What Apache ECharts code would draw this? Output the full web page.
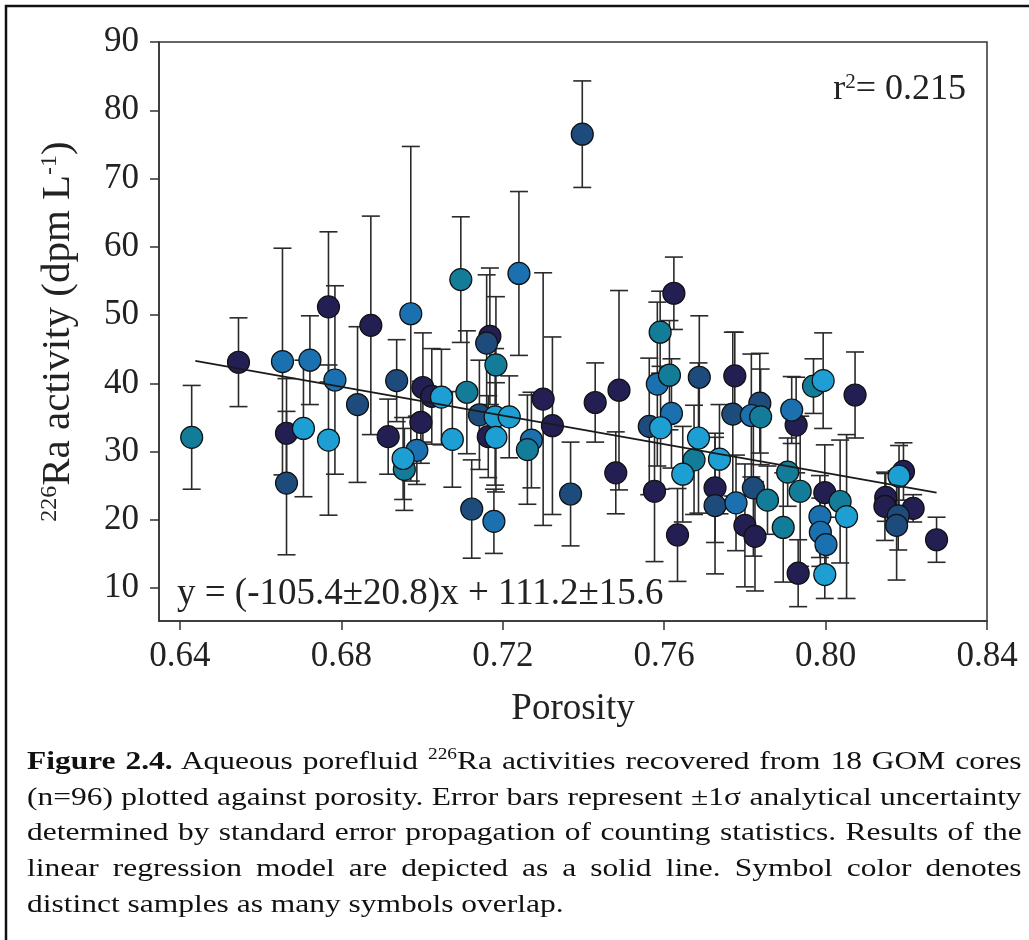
<!DOCTYPE html>
<html>
<head>
<meta charset="utf-8">
<script src="https://cdn.jsdelivr.net/npm/echarts@6/dist/echarts.min.js"></script>
<style>
html, body { margin: 0; padding: 0; background: #fff; }
#wrap { position: relative; width: 1029px; height: 940px; overflow: hidden; }
#chart { position: absolute; left: 0; top: 0; width: 1029px; height: 940px; }
#caption {
    position: absolute; left: 27px; top: 743px; width: 822px;
    transform: scaleX(1.21); transform-origin: left top;
    font-family: 'Liberation Serif', serif; font-size: 26px; line-height: 35.7px; color: #111;
}
#caption div { text-align: justify; text-align-last: justify; }
#caption div.last { text-align: left; text-align-last: left; }
#caption .sup { font-size: 16px; vertical-align: 10px; line-height: 0; }
</style>
</head>
<body>
<div id="wrap">
    <div id="chart"></div>
    <div id="caption">
        <div><b>Figure 2.4.</b> Aqueous porefluid <span class="sup">226</span>Ra activities recovered from 18 GOM cores</div>
        <div>(n=96) plotted against porosity. Error bars represent ±1σ analytical uncertainty</div>
        <div>determined by standard error propagation of counting statistics. Results of the</div>
        <div>linear regression model are depicted as a solid line. Symbol color denotes</div>
        <div class="last">distinct samples as many symbols overlap.</div>
    </div>
</div>
<script>
// [porosity, 226Ra activity, 1 sigma]
const navyPts = [
    [0.6545, 43.1, 6.5], [0.6664, 32.7, 8], [0.6768, 51.2, 11], [0.6873, 48.5, 16],
    [0.6916, 32.2, 5.5], [0.6997, 34.3, 6], [0.7002, 39.4, 8], [0.7024, 38.1, 7],
    [0.7168, 46.9, 10], [0.7164, 32.2, 6], [0.7300, 37.7, 18.5], [0.7323, 33.8, 13],
    [0.7429, 37.2, 5.8], [0.7488, 39.0, 14.6], [0.7480, 26.9, 6], [0.7624, 53.2, 5.3],
    [0.7576, 24.2, 10.3], [0.7633, 17.8, 6.8], [0.7726, 24.7, 8], [0.7775, 41.1, 6.4],
    [0.7927, 33.9, 7], [0.8073, 38.3, 6.3], [0.7800, 19.2, 9], [0.7825, 17.6, 8],
    [0.7932, 12.2, 4.9], [0.7998, 24.0, 7], [0.8149, 23.3, 3.5], [0.8147, 22.0, 5],
    [0.8193, 27.1, 4.2], [0.8217, 21.7, 2], [0.8275, 17.1, 3.3]
]
const darkBluePts = [
    [0.6664, 25.4, 10.5], [0.6840, 36.9, 11.4], [0.6937, 40.4, 6], [0.7142, 35.4, 8],
    [0.7160, 45.9, 10], [0.7123, 21.6, 7.2], [0.7368, 23.8, 7.6], [0.7397, 76.5, 7.8],
    [0.7563, 33.7, 10], [0.7687, 40.9, 9], [0.7726, 22.1, 10], [0.7770, 35.5, 12],
    [0.7837, 37.1, 7.3], [0.7821, 24.7, 10], [0.8180, 20.6, 5], [0.8176, 19.2, 8]
]
const bluePts = [
    [0.6654, 43.2, 16.6], [0.6722, 43.4, 6.5], [0.6784, 40.5, 13.8], [0.6972, 50.2, 24.5],
    [0.6987, 30.2, 5], [0.7240, 56.1, 12], [0.7271, 31.7, 7], [0.7178, 19.8, 4.7],
    [0.7583, 39.9, 12], [0.7618, 35.6, 8], [0.7778, 22.5, 7], [0.7816, 35.3, 9],
    [0.7916, 36.1, 4.9], [0.7986, 20.5, 6], [0.7987, 18.2, 5], [0.8001, 16.4, 4]
]
const tealPts = [
    [0.6429, 32.1, 7.6], [0.6956, 27.4, 6], [0.7096, 55.2, 9.2], [0.7111, 38.7, 9],
    [0.7183, 42.7, 10], [0.7261, 30.3, 8], [0.7590, 47.5, 6], [0.7613, 41.2, 8],
    [0.7674, 28.8, 8], [0.7839, 35.1, 7], [0.7856, 22.9, 5], [0.7906, 27.0, 5],
    [0.7895, 18.9, 8], [0.7937, 24.2, 11], [0.7970, 39.6, 4], [0.8036, 22.7, 9]
]
const cyanPts = [
    [0.6706, 33.4, 10], [0.6768, 31.7, 11], [0.6953, 29.0, 6], [0.7048, 38.0, 7],
    [0.7075, 31.8, 7], [0.7181, 35.1, 10], [0.7183, 32.1, 8], [0.7216, 35.1, 6],
    [0.7591, 33.5, 9], [0.7685, 32.0, 11], [0.7646, 26.7, 7], [0.7737, 28.9, 8],
    [0.7994, 40.4, 7], [0.8052, 20.5, 12], [0.7998, 12.0, 3.5], [0.8182, 26.4, 4.5]
]
const trendLine = [[0.6438, 43.3], [0.8275, 24.0]]
const xTicks = [0.64, 0.68, 0.72, 0.76, 0.80, 0.84]
const yTicks = [10, 20, 30, 40, 50, 60, 70, 80, 90]

const serif = "'Liberation Serif', 'Times New Roman', serif"
const ink = '#222'

const groups = [
    { pts: navyPts, color: '#241f52' },
    { pts: darkBluePts, color: '#1c4b7c' },
    { pts: bluePts, color: '#1b70b0' },
    { pts: tealPts, color: '#137d99' },
    { pts: cyanPts, color: '#1d9fd3' }
]
const allPts = [].concat(navyPts, darkBluePts, bluePts, tealPts, cyanPts)

const chart = echarts.init(document.getElementById('chart'))
chart.setOption({
    animation: false,
    backgroundColor: '#fff',
    grid: {
        left: 159, top: 42, width: 828, height: 579,
        show: true, borderColor: '#333', borderWidth: 1.5
    },
    xAxis: {
        type: 'value',
        min: 0.6348,
        max: 0.84,
        name: 'Porosity',
        nameLocation: 'middle',
        nameGap: 70,
        nameTextStyle: { fontFamily: serif, fontSize: 37, color: ink },
        splitLine: { show: false },
        axisLine: { lineStyle: { color: '#333', width: 1.5 } },
        axisTick: { customValues: xTicks, length: 9, lineStyle: { color: '#333', width: 1.5 } },
        axisLabel: {
            customValues: xTicks, margin: 18,
            fontFamily: serif, fontSize: 35, color: ink,
            formatter: v => v.toFixed(2)
        }
    },
    yAxis: {
        type: 'value',
        min: 5.2,
        max: 90,
        name: '{sup|226}{b|Ra activity (dpm L}{sup|-1}{b|)}',
        nameLocation: 'middle',
        nameRotate: 90,
        nameGap: 80,
        nameTextStyle: {
            color: ink,
            rich: {
                b: { fontFamily: serif, fontSize: 41, color: ink },
                sup: { fontFamily: serif, fontSize: 24, color: ink, verticalAlign: 'top' }
            }
        },
        splitLine: { show: false },
        axisLine: { lineStyle: { color: '#333', width: 1.5 } },
        axisTick: { customValues: yTicks, length: 9, lineStyle: { color: '#333', width: 1.5 } },
        axisLabel: {
            customValues: yTicks, margin: 20,
            fontFamily: serif, fontSize: 35, color: ink
        }
    },
    graphic: [
        {
            type: 'rect', silent: true,
            shape: { x: 6, y: 6, width: 1040, height: 960 },
            style: { fill: 'none', stroke: '#111', lineWidth: 2.5 }
        },
        {
            type: 'text', silent: true, x: 966, y: 108,
            style: {
                text: '{b|r}{sup|2}{b|= 0.215}',
                textAlign: 'right', textVerticalAlign: 'bottom',
                rich: {
                    b: { fontFamily: serif, fontSize: 36, fill: ink },
                    sup: { fontFamily: serif, fontSize: 21, fill: ink, verticalAlign: 'top' }
                }
            }
        },
        {
            type: 'text', silent: true, x: 177, y: 613,
            style: {
                text: 'y = (-105.4±20.8)x + 111.2±15.6',
                font: '37px ' + serif, fill: ink,
                textAlign: 'left', textVerticalAlign: 'bottom'
            }
        }
    ],
    series: [
        {
            type: 'custom',
            z: 1,
            data: allPts,
            renderItem: (params, api) => {
                const x = api.value(0)
                const y = api.value(1)
                const e = api.value(2)
                const top = api.coord([x, y + e])
                const bot = api.coord([x, y - e])
                const cap = 9
                const style = { stroke: '#2a2a2a', lineWidth: 1.6 }
                return {
                    type: 'group',
                    children: [
                        { type: 'line', shape: { x1: top[0], y1: top[1], x2: bot[0], y2: bot[1] }, style },
                        { type: 'line', shape: { x1: top[0] - cap, y1: top[1], x2: top[0] + cap, y2: top[1] }, style },
                        { type: 'line', shape: { x1: bot[0] - cap, y1: bot[1], x2: bot[0] + cap, y2: bot[1] }, style }
                    ]
                }
            }
        },
        ...groups.map(g => ({
            type: 'scatter',
            z: 2,
            data: g.pts.map(p => [p[0], p[1]]),
            symbolSize: 22,
            itemStyle: { color: g.color, borderColor: '#111', borderWidth: 1.2, opacity: 1 }
        })),
        {
            type: 'line',
            z: 3,
            data: trendLine,
            symbol: 'none',
            lineStyle: { color: '#1a1a1a', width: 1.6 }
        }
    ]
})
</script>
</body>
</html>
